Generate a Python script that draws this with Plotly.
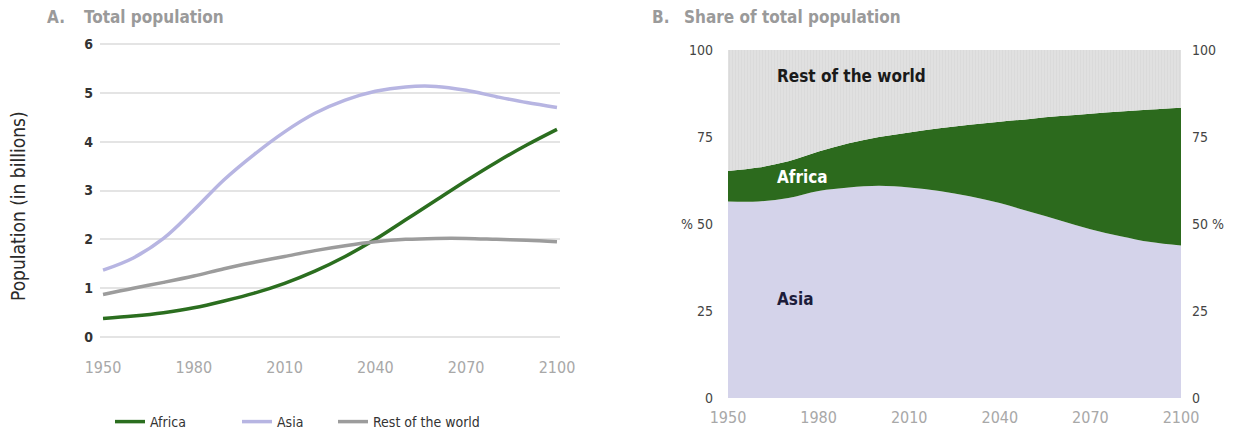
import plotly.graph_objects as go

# data
years = list(range(1950, 2101, 10))

# A. total population (billions)
africa_pop = [0.38, 0.43, 0.50, 0.60, 0.74, 0.90, 1.10, 1.35, 1.65, 2.00, 2.40, 2.80, 3.20, 3.58, 3.93, 4.25]
asia_pop = [1.37, 1.62, 2.02, 2.60, 3.22, 3.74, 4.20, 4.58, 4.85, 5.03, 5.12, 5.13, 5.05, 4.92, 4.80, 4.70]
rest_pop = [0.87, 1.00, 1.12, 1.25, 1.40, 1.53, 1.65, 1.77, 1.87, 1.95, 2.00, 2.02, 2.02, 2.00, 1.98, 1.95]

# B. share of total population (%)
asia_share = [56.5, 56.5, 57.5, 59.5, 60.5, 61.0, 60.5, 59.5, 58.0, 56.0, 53.5, 51.0, 48.5, 46.5, 44.8, 43.8]
africa_share = [8.7, 9.7, 10.5, 11.3, 12.7, 14.0, 15.8, 18.0, 20.5, 23.4, 26.7, 30.0, 33.2, 35.8, 38.1, 39.6]
rest_share = [34.8, 33.8, 32.0, 29.2, 26.8, 25.0, 23.7, 22.5, 21.5, 20.6, 19.8, 19.0, 18.3, 17.7, 17.1, 16.6]

tick_years = [1950, 1980, 2010, 2040, 2070, 2100]
pop_ticks = [0, 1, 2, 3, 4, 5, 6]
share_ticks = [0, 25, 50, 75, 100]
share_left_labels = ["0", "25", "% 50", "75", "100"]
share_right_labels = ["0", "25", "50 %", "75", "100"]

# the page body has an 8px margin, so the figure is shrunk by that much
OFF = 8
W, H = 1235 - OFF, 434 - OFF
FONT = "DejaVu Sans Condensed, Liberation Sans Narrow, Arial Narrow, sans-serif"

GREEN = "#2b6e1f"
LAVENDER = "#b7b5e2"
GREY = "#9c9c9c"


def fx(p):
    # pixel position in the 1235px window -> paper fraction
    return (p - OFF) / W


def fy(p):
    return 1 - (p - OFF) / H


fig = go.Figure()

# panel A lines, each with its own legend so the entries can be placed freely
fig.add_trace(go.Scatter(x=years, y=africa_pop, name="Africa", mode="lines",
                         line=dict(color=GREEN, width=3.5, shape="spline"),
                         legend="legend", xaxis="x", yaxis="y"))
fig.add_trace(go.Scatter(x=years, y=asia_pop, name="Asia", mode="lines",
                         line=dict(color=LAVENDER, width=3.5, shape="spline"),
                         legend="legend2", xaxis="x", yaxis="y"))
fig.add_trace(go.Scatter(x=years, y=rest_pop, name="Rest of the world", mode="lines",
                         line=dict(color=GREY, width=3.5, shape="spline"),
                         legend="legend3", xaxis="x", yaxis="y"))

# panel B stacked areas
fig.add_trace(go.Scatter(x=years, y=asia_share, stackgroup="share", mode="none",
                         fillcolor="#d4d3ea", line=dict(shape="spline"),
                         showlegend=False, xaxis="x2", yaxis="y2"))
fig.add_trace(go.Scatter(x=years, y=africa_share, stackgroup="share", mode="none",
                         fillcolor="#2c6a1d", line=dict(shape="spline"),
                         showlegend=False, xaxis="x2", yaxis="y2"))
fig.add_trace(go.Scatter(x=years, y=rest_share, stackgroup="share", mode="none",
                         fillcolor="#dedede", line=dict(shape="spline"),
                         fillpattern=dict(shape="|", fgcolor="#d2d2d2", bgcolor="#e0e0e0",
                                          size=3, solidity=0.3),
                         showlegend=False, xaxis="x2", yaxis="y2"))
# empty trace so the right-hand share axis gets drawn
fig.add_trace(go.Scatter(x=[], y=[], showlegend=False, hoverinfo="skip",
                         xaxis="x2", yaxis="y3"))

legend_style = dict(orientation="h", xanchor="left", yanchor="middle",
                    font=dict(size=14, color="#333333"), bgcolor="rgba(0,0,0,0)")

fig.update_layout(
    width=W, height=H,
    margin=dict(l=0, r=0, t=0, b=0, autoexpand=False),
    paper_bgcolor="white", plot_bgcolor="white",
    font=dict(family=FONT, size=14, color="#333333"),
    xaxis=dict(domain=[fx(100), fx(560)], range=[1949, 2101], anchor="y",
               tickvals=tick_years, showgrid=False, zeroline=False, showline=False,
               ticks="", ticklabelstandoff=15,
               tickfont=dict(size=16, color="#a8a8a8")),
    yaxis=dict(domain=[fy(341), fy(40)], range=[-0.08, 6.08], anchor="x",
               tickvals=pop_ticks, showgrid=True, gridcolor="#e4e4e4", gridwidth=1.5,
               zeroline=False, showline=False, ticks="", ticklabelstandoff=6,
               tickfont=dict(size=14, color="#333333", weight="bold")),
    xaxis2=dict(domain=[fx(728), fx(1181)], range=[1950, 2100], anchor="y2",
                tickvals=tick_years, showgrid=False, zeroline=False, showline=False,
                ticks="", ticklabelstandoff=8,
                tickfont=dict(size=16, color="#a8a8a8")),
    yaxis2=dict(domain=[fy(398), fy(50)], range=[0, 100], anchor="x2",
                tickvals=share_ticks, ticktext=share_left_labels,
                showgrid=False, zeroline=False, showline=False, ticks="",
                ticklabelstandoff=14, tickfont=dict(size=14, color="#444444")),
    yaxis3=dict(domain=[fy(398), fy(50)], range=[0, 100], anchor="x2",
                overlaying="y2", side="right",
                tickvals=share_ticks, ticktext=share_right_labels,
                showgrid=False, zeroline=False, showline=False, ticks="",
                ticklabelstandoff=10, tickfont=dict(size=14, color="#444444")),
    legend=dict(legend_style, x=fx(110), y=fy(422)),
    legend2=dict(legend_style, x=fx(237), y=fy(422)),
    legend3=dict(legend_style, x=fx(333), y=fy(422)),
)

title_font = dict(family=FONT, size=17, color="#9a9a9a", weight="bold")
annotations = [
    dict(text="A.", x=fx(45), y=fy(17), xanchor="left", yanchor="middle", font=title_font),
    dict(text="Total population", x=fx(82), y=fy(17), xanchor="left", yanchor="middle", font=title_font),
    dict(text="B.", x=fx(650), y=fy(17), xanchor="left", yanchor="middle", font=title_font),
    dict(text="Share of total population", x=fx(682), y=fy(17), xanchor="left", yanchor="middle", font=title_font),
    dict(text="Population (in billions)", x=fx(18), y=fy(206), xanchor="center", yanchor="middle",
         textangle=-90, font=dict(family=FONT, size=19, color="#2a2a2a")),
]
for a in annotations:
    a.update(xref="paper", yref="paper", showarrow=False)

label_font = dict(family=FONT, size=17, weight="bold")
annotations += [
    dict(text="Rest of the world", x=1965.5, y=92.5, xref="x2", yref="y2", xanchor="left",
         yanchor="middle", showarrow=False, font=dict(label_font, color="#1a1a1a")),
    dict(text="Africa", x=1965.5, y=63.5, xref="x2", yref="y2", xanchor="left",
         yanchor="middle", showarrow=False, font=dict(label_font, color="#ffffff")),
    dict(text="Asia", x=1965.5, y=28.5, xref="x2", yref="y2", xanchor="left",
         yanchor="middle", showarrow=False, font=dict(label_font, color="#1c1c3a")),
]
fig.update_layout(annotations=annotations)

fig.write_html("out.html")
